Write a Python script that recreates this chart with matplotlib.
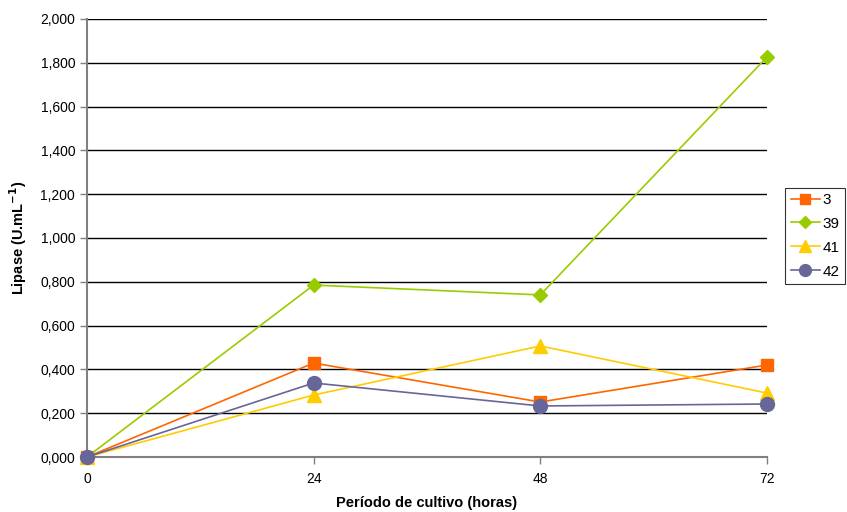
import matplotlib
matplotlib.use('Agg')
import matplotlib.pyplot as plt
from matplotlib.ticker import FuncFormatter

plt.rcParams['font.family'] = ['Liberation Sans', 'DejaVu Sans']

horas = [0, 24, 48, 72]
s3 = [0.0, 0.429, 0.251, 0.420]
s39 = [0.0, 0.785, 0.740, 1.826]
s41 = [0.0, 0.283, 0.507, 0.292]
s42 = [0.0, 0.338, 0.233, 0.242]

fig = plt.figure(figsize=(8.47, 5.12), dpi=100)
ax = fig.add_axes([0.1027, 0.1074, 0.8028, 0.8556])

ax.plot(horas, s3, color='#FF6600', marker='s', ms=9, lw=1.2, label='3', zorder=3, clip_on=False)
ax.plot(horas, s39, color='#99CC00', marker='D', ms=7, lw=1.2, label='39', zorder=3, clip_on=False)
ax.plot(horas, s41, color='#FFCC00', marker='^', ms=10, lw=1.2, label='41', zorder=3, clip_on=False)
ax.plot(horas, s42, color='#666699', marker='o', ms=10, lw=1.2, label='42', zorder=3, clip_on=False)

ax.set_xlim(0, 72)
ax.set_ylim(0, 2.0)
ax.set_xticks(horas)
ax.set_yticks([i * 0.2 for i in range(11)])
ax.yaxis.set_major_formatter(FuncFormatter(lambda v, p: f'{v:.3f}'.replace('.', ',') if v < 1.9999 else '2,000'))
ax.grid(axis='y', color='black', lw=1, zorder=1)
ax.set_axisbelow(True)
for sp in ['top', 'right']:
    ax.spines[sp].set_visible(False)
for sp in ['left', 'bottom']:
    ax.spines[sp].set_color('#808080')
    ax.spines[sp].set_linewidth(1.5)
ax.tick_params(axis='both', colors='#808080', labelcolor='black', labelsize=10, length=5, width=1)
ax.tick_params(axis='x', pad=6)

ax.set_xlabel('Período de cultivo (horas)', fontsize=10.5, fontweight='bold', labelpad=7)
ax.set_ylabel('Lipase (U.mL$^{\\mathbf{-1}}$)', fontsize=10.5, fontweight='bold', labelpad=8)

leg = ax.legend(loc='center left', bbox_to_anchor=(1.027, 0.505), frameon=True, fancybox=False,
                edgecolor='black', fontsize=11, handlelength=1.9, handletextpad=0.2,
                borderpad=0.35, labelspacing=0.65, borderaxespad=0, markerscale=0.85)
leg.get_frame().set_linewidth(0.8)

fig.savefig('out.png', dpi=100)
